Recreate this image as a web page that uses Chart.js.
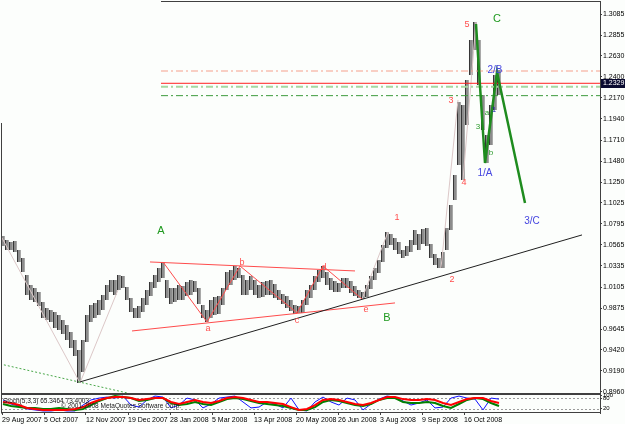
<!DOCTYPE html>
<html><head><meta charset="utf-8">
<script src="https://cdn.jsdelivr.net/npm/chart.js@4.4.1/dist/chart.umd.min.js"></script>
<style>html,body{margin:0;padding:0;background:#fcfefc;}#wrap{width:625px;height:424px;position:relative;overflow:hidden}</style>
</head><body><div id="wrap"><canvas id="c" width="625" height="424"></canvas></div>
<script>
// ---------- data ----------
const dateLabels = ['29 Aug 2007','5 Oct 2007','12 Nov 2007','19 Dec 2007','28 Jan 2008','5 Mar 2008','13 Apr 2008','20 May 2008','26 Jun 2008','3 Aug 2008','9 Sep 2008','16 Oct 2008'];
const dateTickPos = [-0.25,10.25,20.75,31.25,41.75,52.25,62.75,73.25,83.75,94.25,104.75,115.25];
const yTickLabels = ['1.3085','1.2855','1.2630','1.2400','1.2170','1.1940','1.1710','1.1480','1.1250','1.1025','1.0795','1.0565','1.0335','1.0105','0.9875','0.9645','0.9420','0.9190','0.8960'];
const stochTicks = [100,80,20];
const stochLevels = [80,20];
const lastPrice = 1.2329;

const highs = [1.0663,1.0619,1.0597,1.0608,1.0510,1.0423,1.0237,1.0128,1.0095,1.0052,
0.9943,0.9877,0.9855,0.9834,0.9801,0.9746,0.9692,0.9615,0.9528,0.9419,
0.9528,0.9801,0.9910,0.9932,0.9964,1.0019,1.0128,1.0183,1.0183,1.0237,
1.0226,1.0106,0.9986,0.9877,0.9899,0.9986,1.0074,1.0161,1.0237,1.0314,
1.0379,1.0183,1.0095,1.0095,1.0128,1.0117,1.0161,1.0183,1.0172,1.0095,
0.9910,0.9855,0.9964,0.9997,1.0008,1.0095,1.0270,1.0292,1.0335,1.0314,
1.0237,1.0183,1.0226,1.0183,1.0128,1.0161,1.0172,1.0183,1.0139,1.0074,
1.0030,1.0008,0.9964,0.9910,0.9899,0.9964,1.0074,1.0128,1.0226,1.0292,
1.0335,1.0270,1.0205,1.0172,1.0150,1.0205,1.0205,1.0172,1.0117,1.0074,
1.0052,1.0128,1.0226,1.0314,1.0401,1.0565,1.0706,1.0685,1.0641,1.0597,
1.0510,1.0554,1.0619,1.0728,1.0685,1.0739,1.0750,1.0576,1.0466,1.0423,
1.0488,1.0750,1.1001,1.1328,1.2125,1.2092,1.2365,1.2802,1.2998,1.2802,
1.2201,1.1765,1.2092,1.2420,1.2474];
const lows = [1.0554,1.0510,1.0510,1.0488,1.0379,1.0270,1.0019,0.9964,0.9943,0.9899,
0.9768,0.9746,0.9724,0.9659,0.9637,0.9593,0.9528,0.9441,0.9353,0.9059,
0.9179,0.9506,0.9724,0.9768,0.9801,0.9855,0.9964,1.0052,1.0019,1.0074,
1.0095,0.9964,0.9834,0.9768,0.9768,0.9834,0.9910,1.0008,1.0095,1.0161,
1.0205,0.9986,0.9921,0.9943,0.9964,0.9964,1.0008,1.0019,1.0052,0.9921,
0.9768,0.9724,0.9768,0.9801,0.9812,0.9910,1.0074,1.0128,1.0183,1.0205,
1.0019,1.0019,1.0074,1.0019,0.9986,0.9997,1.0019,1.0019,0.9986,0.9964,
0.9921,0.9877,0.9844,0.9812,0.9823,0.9823,0.9910,0.9986,1.0074,1.0161,
1.0205,1.0128,1.0074,1.0052,1.0052,1.0095,1.0095,1.0041,1.0008,0.9986,
0.9975,0.9997,1.0084,1.0183,1.0259,1.0379,1.0532,1.0565,1.0510,1.0466,
1.0423,1.0445,1.0488,1.0565,1.0510,1.0576,1.0554,1.0423,1.0346,1.0314,
1.0314,1.0510,1.0728,1.1056,1.1438,1.1274,1.1874,1.2420,1.2692,1.2311,
1.1819,1.1459,1.1656,1.2038,1.2201];

const stochBlue = [71,47,35,18,12,6,6,12,6,6,41,71,82,88,82,94,41,29,71,94,
88,24,41,82,71,24,47,82,88,94,59,24,29,59,47,24,82,12,6,59,
88,59,41,82,71,12,47,76,94,88,65,41,53,71,24,29,82,94,82,76,12,82,76];
const stochGreen = [47,35,29,24,24,18,18,24,18,12,18,41,65,82,94,88,82,65,71,82,
82,53,41,47,59,47,41,59,76,82,76,65,53,47,41,35,24,12,12,29,
59,71,65,53,41,35,47,71,82,82,59,53,53,59,53,35,24,47,71,82,76,53,35];
const stochRed = [59,53,41,24,18,12,12,12,12,18,29,53,71,82,88,88,82,71,76,82,
82,59,47,59,71,59,53,65,82,88,82,71,59,59,53,47,29,12,18,41,
71,76,71,59,47,41,53,71,88,88,76,71,71,76,71,53,41,59,76,82,82,65,53];
const stochStep = 2;

// drawn objects (bar index, price)
const trendLine = [{x:19.25,y:0.9070},{x:144.75,y:1.0674}];
const supportDots = [{x:-0.75,y:0.9266},{x:31,y:0.8950}];
const faintZigs = [
  [{x:-0.25,y:1.0641},{x:19.25,y:0.9059},{x:28.75,y:1.0074}],
  [{x:89.75,y:0.9975},{x:96.25,y:1.0706}],
  [{x:109.5,y:1.0314},{x:113.75,y:1.2147}],
  [{x:115,y:1.1274},{x:118.25,y:1.2998}]
];
const redZig = [{x:40,y:1.0379},{x:51,y:0.9724},{x:59.25,y:1.0335},{x:73.5,y:0.9823},{x:80,y:1.0335},{x:89.75,y:0.9975}];
const triUpper = [{x:36.75,y:1.0379},{x:88,y:1.0281}];
const triLower = [{x:32.25,y:0.9626},{x:98,y:0.9932}];
const greenWave = [{x:118.25,y:1.2976},{x:120.5,y:1.1459},{x:123.5,y:1.2452},{x:130.5,y:1.1023}];
const hLevelStart = 39.5, hLevelEnd = 149.25;
const levelSalmon = 1.2463, levelLightGreen = 1.2292, levelDarkGreen = 1.2194;

const bigGreen = [{t:'A',x:39.5,y:1.0717},{t:'B',x:96,y:0.9768},{t:'C',x:123.5,y:1.3031}];
const redNums = [{t:'1',x:98.5,y:1.0859},{t:'2',x:112.25,y:1.0183},{t:'3',x:112,y:1.2136},{t:'4',x:115.25,y:1.1241},{t:'5',x:116,y:1.2965}];
const redLetters = [{t:'a',x:51.25,y:0.9648},{t:'b',x:59.75,y:1.0368},{t:'c',x:73.5,y:0.9735},{t:'d',x:80.25,y:1.0314},{t:'e',x:90.75,y:0.9855}];
const blueLabels = [{t:'1/A',x:120.5,y:1.1350},{t:'2/B',x:123,y:1.2474},{t:'3/C',x:132.25,y:1.0826}];
const smallGreen = [{t:'a',x:121,y:1.2005},{t:'3',x:118.75,y:1.1852},{t:'b',x:122,y:1.1568}];
const smallBlue = [{t:'1',x:122.75,y:1.2038}];

// ---------- chart ----------
Chart.defaults.font.family = "'Liberation Sans', Arial, sans-serif";
const FONT = "'Liberation Sans', Arial, sans-serif";

function line(data, color, width, dash, yAxisID) {
  return {type:'line', data, borderColor:color, borderWidth:width, borderDash:dash||[], pointRadius:0,
    tension:0, fill:false, yAxisID:yAxisID||'y', order:0};
}
function hline(v, color, width, dash) {
  return line([{x:hLevelStart,y:v},{x:hLevelEnd,y:v}], color, width, dash);
}

const datasets = [
  line(greenWave, '#1e8c1e', 2.5),
  line(trendLine, '#202020', 1),
  line(redZig, '#ff4c4c', 1),
  line(triUpper, '#ff4c4c', 1),
  line(triLower, '#ff4c4c', 1),
  hline(lastPrice, '#ff2020', 1),
  hline(levelSalmon, '#f5a08c', 1, [7,3,2,3]),
  hline(levelLightGreen, '#a6d8a0', 2, [7,3,2,3]),
  hline(levelDarkGreen, '#3d9a3d', 1, [7,3,2,3]),
  line(supportDots, '#4aa84a', 1, [2,2]),
  ...faintZigs.map(z => line(z, '#dcc8c8', 1)),
  line(stochRed.map((v,j)=>({x:j*stochStep,y:v})), '#ff0000', 2, null, 'y2'),
  line(stochGreen.map((v,j)=>({x:j*stochStep,y:v})), '#008000', 2, null, 'y2'),
  line(stochBlue.map((v,j)=>({x:j*stochStep,y:v})), '#1010ff', 1, null, 'y2'),
  {type:'bar', data: highs.map((h,i)=>({x:i, y:[lows[i], h]})), backgroundColor:'#8c8c8c',
   borderColor:'#2e2e2e', borderWidth:{left:1, right:0, top:0, bottom:0}, borderSkipped:false,
   barThickness:3.5, yAxisID:'y', order:10}
];

function drawTexts(ctx, list, xs, ys, color, font) {
  ctx.fillStyle = color; ctx.font = font; ctx.textAlign = 'center'; ctx.textBaseline = 'middle';
  for (const o of list) ctx.fillText(o.t, xs.getPixelForValue(o.x), ys.getPixelForValue(o.y));
}

const decor = {
  id:'decor',
  beforeDraw(chart) {
    const ctx = chart.ctx; ctx.save(); ctx.fillStyle = '#fcfefc'; ctx.fillRect(0,0,chart.width,chart.height); ctx.restore();
  },
  beforeDatasetsDraw(chart) {
    const {ctx, chartArea, scales:{y2}} = chart;
    ctx.save(); ctx.strokeStyle = '#9a9a9a'; ctx.lineWidth = 1; ctx.setLineDash([2,2]);
    for (const lv of stochLevels) {
      const py = Math.round(y2.getPixelForValue(lv)) + 0.5;
      ctx.beginPath(); ctx.moveTo(chartArea.left, py); ctx.lineTo(chartArea.right, py); ctx.stroke();
    }
    ctx.restore();
  },
  afterDatasetsDraw(chart) {
    const {ctx, scales:{x, y}} = chart;
    ctx.save();
    drawTexts(ctx, bigGreen, x, y, '#1f9a1f', '11px '+FONT);
    drawTexts(ctx, redNums, x, y, '#ff4d4d', '9px '+FONT);
    drawTexts(ctx, redLetters, x, y, '#ff4d4d', '9px '+FONT);
    drawTexts(ctx, blueLabels, x, y, '#4545e0', '10px '+FONT);
    drawTexts(ctx, smallGreen, x, y, '#2a9a2a', '8px '+FONT);
    drawTexts(ctx, smallBlue, x, y, '#2020b0', '8px '+FONT);
    ctx.restore();
  },
  afterDraw(chart) {
    const {ctx, chartArea, scales:{x, y, y2}} = chart;
    ctx.save();
    ctx.strokeStyle = '#404040'; ctx.lineWidth = 1;
    const L = chartArea.left + 0.5, R = chartArea.right + 0.5;
    ctx.beginPath();
    ctx.moveTo(x.getPixelForValue(hLevelStart), Math.round(y.top)+0.5); ctx.lineTo(R, Math.round(y.top)+0.5);
    ctx.moveTo(L, 123); ctx.lineTo(L, Math.round(y2.bottom)+0.5);
    ctx.moveTo(L, Math.round(y.bottom)+0.5); ctx.lineTo(R, Math.round(y.bottom)+0.5);
    ctx.moveTo(L, Math.round(y.bottom)+1.5); ctx.lineTo(R, Math.round(y.bottom)+1.5);
    ctx.moveTo(L, Math.round(y2.bottom)-0.5); ctx.lineTo(R, Math.round(y2.bottom)-0.5);
    ctx.stroke();
    // last price box
    const py = y.getPixelForValue(lastPrice);
    ctx.fillStyle = '#0a0a30'; ctx.fillRect(chartArea.right+1, Math.round(py)-4, 24, 9);
    ctx.fillStyle = '#ffffff'; ctx.font = '7px '+FONT; ctx.textAlign = 'left'; ctx.textBaseline = 'middle';
    ctx.fillText(lastPrice.toFixed(4), chartArea.right+3, Math.round(py)+0.5);
    // stoch caption
    ctx.fillStyle = '#202020'; ctx.font = '6.5px '+FONT; ctx.textBaseline = 'middle';
    ctx.fillText('Stoch(5,3,3) 65.3464 73.4003', chartArea.left+2, y2.top+8);
    ctx.fillText('\u00a9 2001-2008 MetaQuotes Software Corp.', chartArea.left+60, y2.top+13);
    ctx.restore();
  }
};

new Chart(document.getElementById('c'), {
  type:'bar',
  data:{datasets},
  options:{
    responsive:false, animation:false, devicePixelRatio:1, events:[],
    layout:{padding:{left:1, top:1, right:0, bottom:0}},
    plugins:{legend:{display:false}, tooltip:{enabled:false}},
    scales:{
      x:{type:'linear', min:-0.5, max:149.25, position:'bottom', offset:false,
        afterBuildTicks: s => { s.ticks = dateTickPos.map(v=>({value:v})); },
        afterFit: s => { s.height = 11; s.paddingLeft = 0; s.paddingRight = 0; },
        ticks:{autoSkip:false, maxRotation:0, minRotation:0, align:'start', padding:1, color:'#000', font:{size:7},
          callback:(v,i)=>dateLabels[i]},
        grid:{drawOnChartArea:false, offset:false, tickLength:2, color:'#404040'},
        border:{display:false}},
      y:{type:'linear', position:'right', min:0.8949, max:1.3227, stack:'p', stackWeight:392,
        afterBuildTicks: s => { s.ticks = yTickLabels.map(l=>({value:parseFloat(l)})); },
        afterFit: s => { s.width = 25; s.paddingTop = 0; s.paddingBottom = 0; },
        ticks:{autoSkip:false, padding:1, color:'#000', font:{size:7}, callback:(v,i)=>yTickLabels[i]},
        grid:{drawOnChartArea:false, tickLength:2, color:'#404040'},
        border:{display:true, color:'#404040'}},
      y2:{type:'linear', position:'right', min:-6, max:112, stack:'p', stackWeight:20,
        afterBuildTicks: s => { s.ticks = stochTicks.map(v=>({value:v})); },
        afterFit: s => { s.width = 25; s.paddingTop = 0; s.paddingBottom = 0; },
        ticks:{autoSkip:false, padding:1, color:'#000', font:{size:6}, callback:(v,i)=>String(stochTicks[i])},
        grid:{drawOnChartArea:false, tickLength:2, color:'#404040'},
        border:{display:true, color:'#404040'}}
    }
  },
  plugins:[decor]
});
</script></body></html>
